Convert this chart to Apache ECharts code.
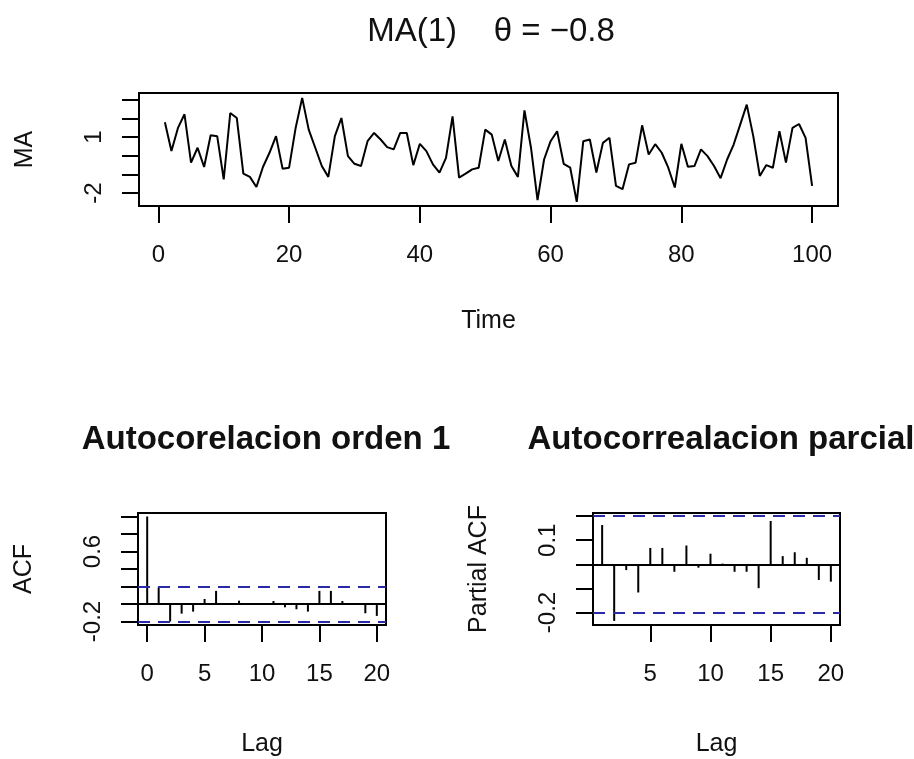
<!DOCTYPE html>
<html>
<head>
<meta charset="utf-8">
<script src="https://cdn.jsdelivr.net/npm/echarts@6/dist/echarts.min.js"></script>
<style>
html,body{margin:0;padding:0;background:#fff;}
#chart{width:914px;height:759px;}
</style>
</head>
<body>
<div id="chart"></div>
<script>
// ---- Data ----
const maValues = [
  1.79, 0.25, 1.49, 2.22, -0.37, 0.43, -0.60, 1.10, 1.05, -1.26,
  2.29, 2.02, -0.96, -1.13, -1.67, -0.60, 0.16, 1.05, -0.69, -0.64,
  1.49, 3.10, 1.40, 0.43, -0.55, -1.13, 1.05, 2.02, -0.02, -0.43,
  -0.55, 0.78, 1.22, 0.87, 0.46, 0.34, 1.22, 1.22, -0.50, 0.64,
  0.25, -0.46, -0.90, -0.11, 2.11, -1.17, -0.96, -0.73, -0.64, 1.40,
  1.13, -0.28, 0.87, -0.55, -1.13, 2.43, 0.43, -2.38, -0.20, 0.78,
  1.31, -0.43, -0.64, -2.47, 0.78, 0.87, -0.90, 0.69, 0.96, -1.61,
  -1.79, -0.46, -0.37, 1.63, 0.07, 0.62, 0.16, -0.64, -1.70, 0.64,
  -0.59, -0.55, 0.34, -0.02, -0.55, -1.20, -0.20, 0.60, 1.67, 2.74,
  1.05, -1.08, -0.50, -0.64, 1.31, -0.37, 1.49, 1.70, 0.96, -1.61
];
const timeTicks = [0, 20, 40, 60, 80, 100];
const maYTicks = [-2, -1, 0, 1, 2, 3];
const maYLabels = [-2, 1];

const acfValues = [1.0, 0.19, -0.20, -0.11, -0.087, 0.057, 0.15, 0.008, 0.038, -0.005,
  0.003, 0.034, -0.038, -0.06, -0.087, 0.15, 0.15, 0.034, -0.006, -0.106, -0.136];
const acfXTicks = [0, 5, 10, 15, 20];
const acfYTicks = [-0.2, 0, 0.2, 0.4, 0.6, 0.8, 1.0];
const acfYLabels = [-0.2, 0.6];

const pacfValues = [0.163, -0.235, -0.024, -0.117, 0.068, 0.068, -0.031, 0.078, -0.014, 0.044,
  0.003, -0.031, -0.031, -0.099, 0.18, 0.034, 0.05, 0.027, -0.065, -0.072];
const pacfXTicks = [5, 10, 15, 20];
const pacfYTicks = [-0.2, -0.1, 0, 0.1, 0.2];
const pacfYLabels = [-0.2, 0.1];

const ciBound = 0.196;

// ---- Build ----
const FONT = "'Liberation Sans', Arial, sans-serif";
const maData = maValues.map((v, i) => [i + 1, v]);
const acfData = acfValues.map((v, i) => [i, v]);
const pacfData = pacfValues.map((v, i) => [i + 1, v]);

function xAx(gi, min, max, ticks, name, gap) {
  return {
    type: 'value', gridIndex: gi, min: min, max: max,
    axisLine: {show: false, onZero: false},
    splitLine: {show: false},
    axisTick: {show: true, length: 17, customValues: ticks, lineStyle: {color: '#000', width: 2}},
    axisLabel: {customValues: ticks, margin: 37, fontSize: 24, color: '#111', fontFamily: FONT},
    name: name, nameLocation: 'middle', nameGap: gap,
    nameTextStyle: {fontSize: 25, color: '#111', fontFamily: FONT}
  };
}
function yAx(gi, min, max, ticks, labels, name) {
  return {
    type: 'value', gridIndex: gi, min: min, max: max,
    axisLine: {show: false, onZero: false},
    splitLine: {show: false},
    axisTick: {show: true, length: 17, customValues: ticks, lineStyle: {color: '#000', width: 2}},
    axisLabel: {customValues: labels, rotate: 90, margin: 33, fontSize: 24, color: '#111', fontFamily: FONT},
    name: name, nameLocation: 'middle', nameGap: 101, nameRotate: 90,
    nameTextStyle: {fontSize: 25, color: '#111', fontFamily: FONT}
  };
}
const gridStyle = {show: true, borderColor: '#000', borderWidth: 2, backgroundColor: 'transparent', containLabel: false};
const ciLine = {
  silent: true, symbol: ['none', 'none'], label: {show: false},
  emphasis: {disabled: true},
  data: [
    {yAxis: 0, lineStyle: {color: '#000', type: 'solid', width: 2}},
    {yAxis: ciBound, lineStyle: {color: '#2a2aa8', type: [12, 8], width: 2}},
    {yAxis: -ciBound, lineStyle: {color: '#2a2aa8', type: [12, 8], width: 2}}
  ]
};

const chart = echarts.init(document.getElementById('chart'), null, {renderer: 'canvas'});
chart.setOption({
  animation: false,
  backgroundColor: '#fff',
  title: [
    {text: 'MA(1)    θ = −0.8', left: 486, top: 10, textAlign: 'center',
     textStyle: {fontSize: 33, fontWeight: 'normal', color: '#111', fontFamily: FONT}},
    {text: 'Autocorelacion orden 1', left: 261, top: 418, textAlign: 'center',
     textStyle: {fontSize: 33, fontWeight: 'bold', color: '#111', fontFamily: FONT}},
    {text: 'Autocorrealacion parcial', left: 716, top: 418, textAlign: 'center',
     textStyle: {fontSize: 33, fontWeight: 'bold', color: '#111', fontFamily: FONT}}
  ],
  grid: [
    Object.assign({left: 139, top: 93, width: 699, height: 113}, gridStyle),
    Object.assign({left: 138, top: 513, width: 248, height: 112}, gridStyle),
    Object.assign({left: 593, top: 513, width: 247, height: 112}, gridStyle)
  ],
  xAxis: [
    xAx(0, -2.96, 103.96, timeTicks, 'Time', 103),
    xAx(1, -0.8, 20.8, acfXTicks, 'Lag', 107),
    xAx(2, 0.24, 20.76, pacfXTicks, 'Lag', 107)
  ],
  yAxis: [
    yAx(0, -2.69, 3.36, maYTicks, maYLabels, 'MA'),
    yAx(1, -0.24, 1.04, acfYTicks, acfYLabels, 'ACF'),
    yAx(2, -0.252, 0.213, pacfYTicks, pacfYLabels, 'Partial ACF')
  ],
  series: [
    {type: 'line', xAxisIndex: 0, yAxisIndex: 0, data: maData, showSymbol: false,
     lineStyle: {color: '#000', width: 2}, silent: true},
    {type: 'bar', xAxisIndex: 1, yAxisIndex: 1, data: acfData, barWidth: 2,
     itemStyle: {color: '#000'}, silent: true, markLine: ciLine},
    {type: 'bar', xAxisIndex: 2, yAxisIndex: 2, data: pacfData, barWidth: 2,
     itemStyle: {color: '#000'}, silent: true, markLine: ciLine}
  ]
});
</script>
</body>
</html>
